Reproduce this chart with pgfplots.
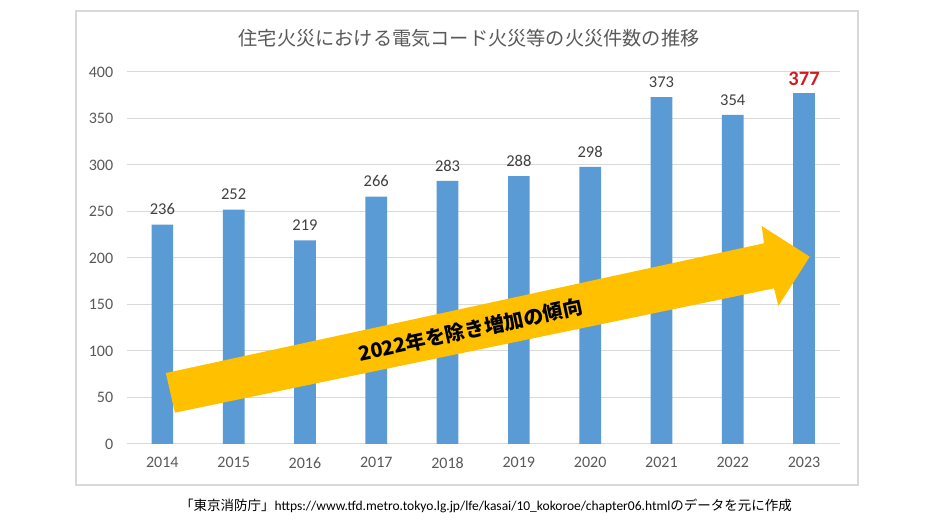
\documentclass[border=0pt]{standalone}
\usepackage{fontspec}
\setmainfont{Carlito}
\newfontfamily\cjk{Noto Sans CJK JP}
\usepackage{pgfplots}
\pgfplotsset{compat=1.18}
\definecolor{barblue}{HTML}{5B9BD5}
\definecolor{arrowgold}{HTML}{FFC000}
\definecolor{gridgray}{HTML}{D9D9D9}
\definecolor{tickgray}{HTML}{595959}
\definecolor{labelgray}{HTML}{404040}
\definecolor{redlabel}{HTML}{D01C1F}
\begin{document}
\begin{tikzpicture}
\useasboundingbox (0pt,0pt) rectangle (940pt,529pt);
\fill[white] (0pt,0pt) rectangle (940pt,529pt);
\draw[gridgray, line width=1.5pt] (76pt,44pt) rectangle (858pt,518pt);
\node[text=tickgray, font=\cjk\fontsize{19.2}{23}\selectfont] at (469pt,491pt) {住宅火災における電気コード火災等の火災件数の推移};
\node[text=black, font=\fontsize{13.5}{16}\selectfont] at (486pt,23pt) {{\cjk 「東京消防庁」}https://www.tfd.metro.tokyo.lg.jp/lfe/kasai/10\_kokoroe/chapter06.html{\cjk のデータを元に作成}};
\begin{axis}[
  at={(126.7pt,85pt)}, anchor=south west,
  scale only axis, width=713pt, height=372pt,
  xmin=-0.5, xmax=9.5, ymin=0, ymax=400,
  xtick={0,...,9},
  xticklabels={2014,2015,2016,2017,2018,2019,2020,2021,2022,2023},
  ytick={0,50,...,400},
  ymajorgrids, grid style={gridgray, line width=1pt},
  axis line style={draw=none}, major tick length=0pt,
  tick label style={text=tickgray, font=\fontsize{16}{19}\selectfont},
  /pgf/number format/assume math mode=true,
  yticklabel style={xshift=-10pt},
  xticklabel style={yshift=-10pt},
  clip=false,
]
\addplot[ybar, bar shift=0pt, bar width=21.7pt, fill=barblue, draw=none,
  nodes near coords,
  nodes near coords style={text=labelgray, font=\fontsize{16.5}{19}\selectfont, yshift=6pt}]
  coordinates {(0,236) (1,252) (2,219) (3,266) (4,283) (5,288) (6,298) (7,373) (8,354)};
\addplot[ybar, bar shift=0pt, bar width=21.7pt, fill=barblue, draw=none,
  nodes near coords,
  nodes near coords style={text=redlabel, font=\bfseries\fontsize{20.5}{24}\selectfont, yshift=4pt}]
  coordinates {(9,377)};
\fill[arrowgold] (axis cs:0.049,76.3) -- (axis cs:8.438,215.8) -- (axis cs:8.406,234.4)
  -- (axis cs:9.080,201.4) -- (axis cs:8.640,148.4) -- (axis cs:8.579,167.4)
  -- (axis cs:0.176,33.7) -- cycle;
\node[rotate=12, text=black, font=\cjk\bfseries\fontsize{20}{23}\selectfont] at (axis cs:4.32,122.6) {2022年を除き増加の傾向};
\end{axis}
\end{tikzpicture}
\end{document}
